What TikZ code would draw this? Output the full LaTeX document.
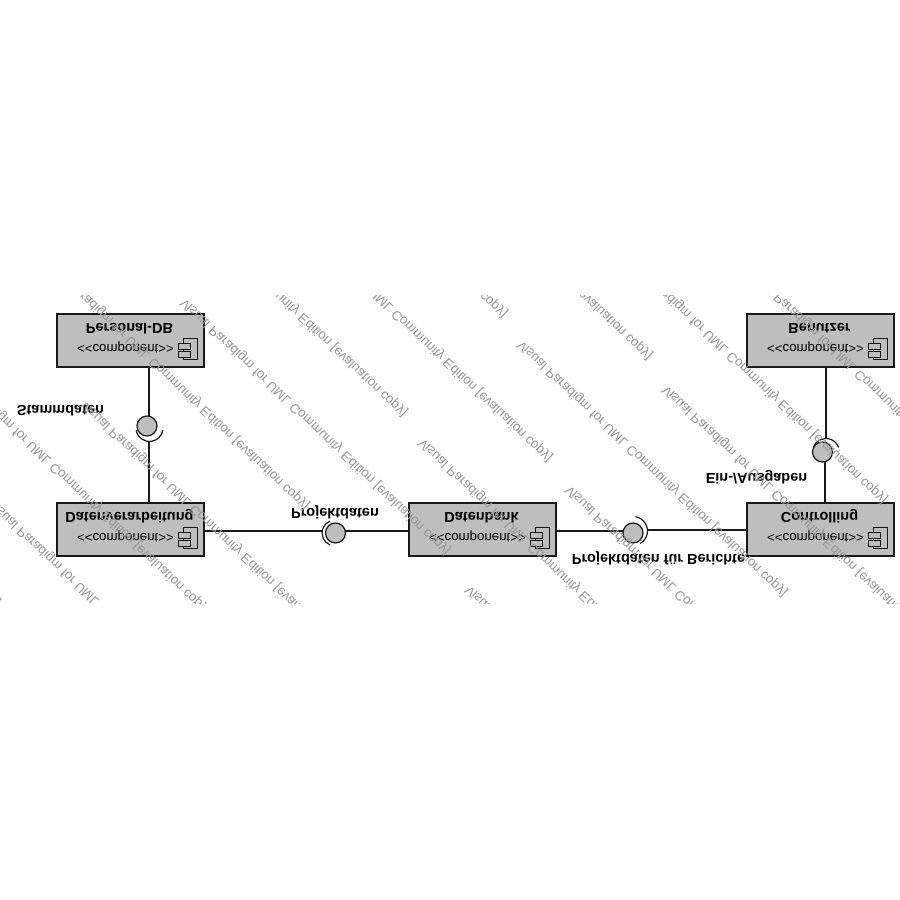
\documentclass[tikz,border=0pt]{standalone}
\usepackage{fontspec}
\setmainfont{Liberation Sans}
\definecolor{boxgray}{RGB}{190,190,190}
\definecolor{markgray}{RGB}{150,150,150}
\definecolor{inkdark}{RGB}{25,25,25}
\tikzset{
  flipped/.style={transform shape,inner sep=0pt,outer sep=0pt},
  compbox/.style={flipped,draw=inkdark,line width=1.3pt,fill=boxgray,minimum width=147pt,minimum height=53pt,anchor=south west},
  compname/.style={flipped,anchor=base,text=black,font=\fontsize{14.5}{16}\selectfont\bfseries},
  stereo/.style={flipped,anchor=base,text=black,font=\fontsize{13.3}{15}\selectfont},
  iconmain/.style={flipped,draw=inkdark,line width=.9pt,fill=boxgray,minimum width=14pt,minimum height=21pt},
  iconport/.style={flipped,draw=inkdark,line width=.9pt,fill=boxgray,minimum width=12pt,minimum height=6pt},
  ball/.style={flipped,circle,draw=inkdark,line width=1.2pt,fill=boxgray,minimum size=20pt},
  wire/.style={draw=inkdark,line width=1.4pt},
  socket/.style={draw=inkdark,line width=1.2pt},
  iflabel/.style={flipped,anchor=base,text=black,font=\fontsize{14.5}{16}\selectfont\bfseries},
  watermark/.style={flipped,anchor=base west,rotate=43.5,text=markgray,font=\fontsize{13.3}{15}\selectfont},
}
\newcommand{\compunit}[4]{%
  \node[compbox] (#1) at (#2,#3) {};
  \node[compname] (#1name) at (#2+72.5,#3+9.5) {#4};
  \node[stereo] (#1stereo) at (#2+68.5,#3+30) {<{}<component>{}>};
  \node[iconmain] (#1icon) at (#2+133.5,#3+35) {};
  \node[iconport] (#1porta) at (#2+127,#3+32.5) {};
  \node[iconport] (#1portb) at (#2+127,#3+40.5) {};
}
\begin{document}
\begin{tikzpicture}[x=1pt,y=1pt,yscale=-1]
\useasboundingbox (0,0) rectangle (900,900);
\fill[white] (0,0) rectangle (900,900);

\compunit{pdb}{57}{314}{Personal-DB}
\compunit{dv}{57}{503}{Datenverarbeitung}
\compunit{db}{409}{503}{Datenbank}
\compunit{ben}{747}{314}{Benutzer}
\compunit{con}{747}{503}{Controlling}

% ball-and-socket interfaces
\node[ball] (ballS) at (147,426) {};
\node[ball] (ballP) at (335.5,533) {};
\node[ball] (ballB) at (633,533) {};
\node[ball] (ballE) at (822.5,452) {};

\coordinate (pdbOut) at (149,367);
\coordinate (ballSin) at (149,416);
\coordinate (sockS) at (149,441);
\coordinate (dvIn) at (149,503);
\draw[wire] (pdbOut) -- (ballSin);
\draw[wire] (sockS) -- (dvIn);
\draw[socket] (136.2,430.3) arc[start angle=170,end angle=10,radius=13.5];

\coordinate (dvOut) at (204,531);
\coordinate (sockP) at (322,531);
\coordinate (ballPout) at (345,531);
\coordinate (dbIn) at (409,531);
\draw[wire] (dvOut) -- (sockP);
\draw[wire] (ballPout) -- (dbIn);
\draw[socket] (330,521) arc[start angle=247,end angle=113,radius=13];

\coordinate (dbOut) at (556,531);
\coordinate (ballBin) at (623,531);
\coordinate (sockB) at (648,530);
\coordinate (conIn) at (747,530);
\draw[wire] (dbOut) -- (ballBin);
\draw[wire] (sockB) -- (conIn);
\draw[socket] (635.5,516.7) arc[start angle=-80,end angle=60,radius=14.5];

\coordinate (benOut) at (826,367);
\coordinate (sockE) at (826,439);
\coordinate (ballEout) at (825,462);
\coordinate (conUp) at (825,503);
\draw[wire] (benOut) -- (sockE);
\draw[wire] (ballEout) -- (conUp);
\draw[socket] (813.3,447.4) arc[start angle=200,end angle=340,radius=13.5];

% labels
\node[iflabel] (lblS) at (60.5,405) {Stammdaten};
\node[iflabel] (lblP) at (335,508) {Projektdaten};
\node[iflabel] (lblB) at (658.5,554) {Projektdaten für Berichte};
\node[iflabel] (lblE) at (756.5,473) {Ein-/Ausgaben};

% evaluation watermark
\begin{scope}
\clip (0,295) rectangle (900,603);
\foreach \i/\wx/\wy in {1/185/298,2/44/253,3/85/400,4/-7/499,5/-55/358,6/287/205,7/142/160,8/387/103,9/242/61,10/423/438,11/522/340,12/570/485,13/470/585,14/667/385,15/622/247,16/750/265,17/-265/350}{
  \node[watermark] (wm\i) at (\wx,\wy) {Visual Paradigm for UML Community Edition [evaluation copy]};
}
\end{scope}
\end{tikzpicture}
\end{document}
